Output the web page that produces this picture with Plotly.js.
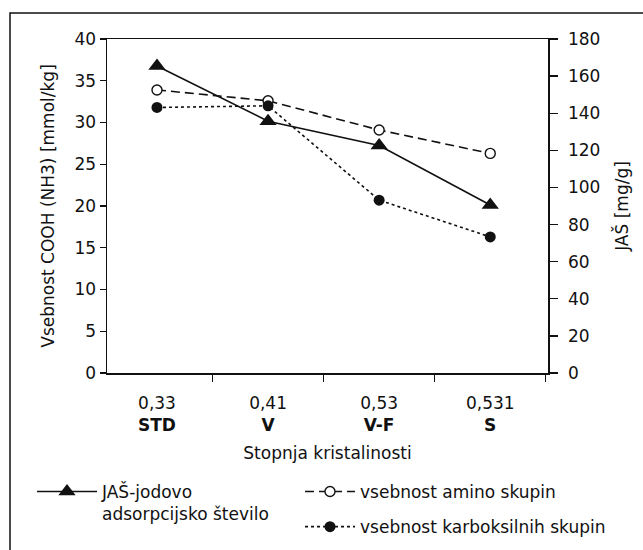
<!DOCTYPE html>
<html>
<head>
<meta charset="utf-8">
<script src="https://cdn.plot.ly/plotly-3.0.1.min.js"></script>
<style>html,body{margin:0;padding:0;background:#fff;}#chart{width:643px;height:550px;}</style>
</head>
<body>
<div id="chart"></div>
<script>
// Data
const sampleCodes = ["STD", "V", "V-F", "S"];
const crystallinity = ["0,33", "0,41", "0,53", "0,531"];
const jasValues = [165.5, 135.7, 122.6, 90.5];      // JAŠ [mg/g], right axis
const aminoValues = [33.9, 32.6, 29.1, 26.3];      // mmol/kg, left axis
const carboxylValues = [31.8, 32.0, 20.7, 16.3];   // mmol/kg, left axis

const tickLabels = sampleCodes.map((c, i) => crystallinity[i] + "<br><b>" + c + "</b>");
const FONT = "DejaVu Sans, Liberation Sans, Arial, sans-serif";
const INK = "#111";

const traces = [
  {
    x: sampleCodes, y: jasValues, yaxis: "y2", type: "scatter", mode: "lines+markers",
    name: "JAŠ-jodovo<br>adsorpcijsko število",
    line: {color: INK, width: 1.6},
    marker: {symbol: "triangle-up", size: 15, color: INK},
    legend: "legend", showlegend: true
  },
  {
    x: sampleCodes, y: aminoValues, type: "scatter", mode: "lines+markers",
    name: "vsebnost amino skupin",
    line: {color: INK, width: 1.6, dash: "9px,5px"},
    marker: {symbol: "circle", size: 10, color: "#fff", line: {color: INK, width: 1.4}},
    legend: "legend2", legendgroup: "a", showlegend: true
  },
  {
    x: sampleCodes, y: carboxylValues, type: "scatter", mode: "lines+markers",
    name: "vsebnost karboksilnih skupin",
    line: {color: INK, width: 1.6, dash: "dot"},
    marker: {symbol: "circle", size: 11, color: INK},
    legend: "legend2", legendgroup: "b", showlegend: true
  }
];

const L = 107, R = 95, T = 39, B = 177;
const W = 643 - L - R, H = 550 - T - B;
const px = v => (v - L) / W;
const py = v => (550 - B - v) / H;

const layout = {
  width: 643, height: 550,
  showlegend: true,
  margin: {l: L, r: R, t: T, b: B, pad: 0, autoexpand: false},
  paper_bgcolor: "#fff", plot_bgcolor: "#fff",
  font: {family: FONT, size: 17, color: INK},
  xaxis: {
    type: "category", range: [-0.45, 3.52], automargin: false,
    tickmode: "array", tickvals: sampleCodes, ticktext: tickLabels,
    tickson: "boundaries", ticks: "outside", ticklen: 7, tickwidth: 1.3, tickcolor: INK,
    ticklabelstandoff: 14,
    showline: true, linecolor: INK, linewidth: 1.5, mirror: true,
    showgrid: false, zeroline: false,
    tickfont: {family: FONT, size: 17, color: INK},
    title: {text: "Stopnja kristalinosti", font: {family: FONT, size: 17, color: INK}, standoff: 13}
  },
  yaxis: {
    range: [0, 40], dtick: 5, ticks: "outside", ticklen: 6, tickwidth: 1.3, tickcolor: INK,
    automargin: false,
    showline: true, linecolor: INK, linewidth: 1.5, showgrid: false, zeroline: false,
    tickfont: {family: FONT, size: 17, color: INK},
    title: {text: "Vsebnost COOH (NH3) [mmol/kg]", font: {family: FONT, size: 17, color: INK}, standoff: 15}
  },
  yaxis2: {
    range: [0, 180], dtick: 20, overlaying: "y", side: "right", automargin: false,
    ticks: "outside", ticklen: 8, tickwidth: 1.3, tickcolor: INK,
    ticklabelstandoff: 7,
    showline: true, linecolor: INK, linewidth: 1.5, showgrid: false, zeroline: false,
    tickfont: {family: FONT, size: 17, color: INK},
    title: {text: "JAŠ [mg/g]", font: {family: FONT, size: 17, color: INK}, standoff: 16}
  },
  legend: {
    x: px(32), y: py(474), xanchor: "left", yanchor: "top",
    bgcolor: "rgba(0,0,0,0)", borderwidth: 0, valign: "top",
    itemwidth: 60, font: {family: FONT, size: 17, color: INK}
  },
  legend2: {
    x: px(300), y: py(474), xanchor: "left", yanchor: "top",
    bgcolor: "rgba(0,0,0,0)", borderwidth: 0, tracegroupgap: 10,
    itemwidth: 50, font: {family: FONT, size: 17, color: INK}
  },
  shapes: [
    {type: "rect", xref: "paper", yref: "paper",
     x0: px(10), x1: px(660), y0: py(570), y1: py(13),
     line: {color: INK, width: 1.5}, layer: "below"}
  ]
};

Plotly.newPlot("chart", traces, layout, {displayModeBar: false, staticPlot: true});
</script>
</body>
</html>
